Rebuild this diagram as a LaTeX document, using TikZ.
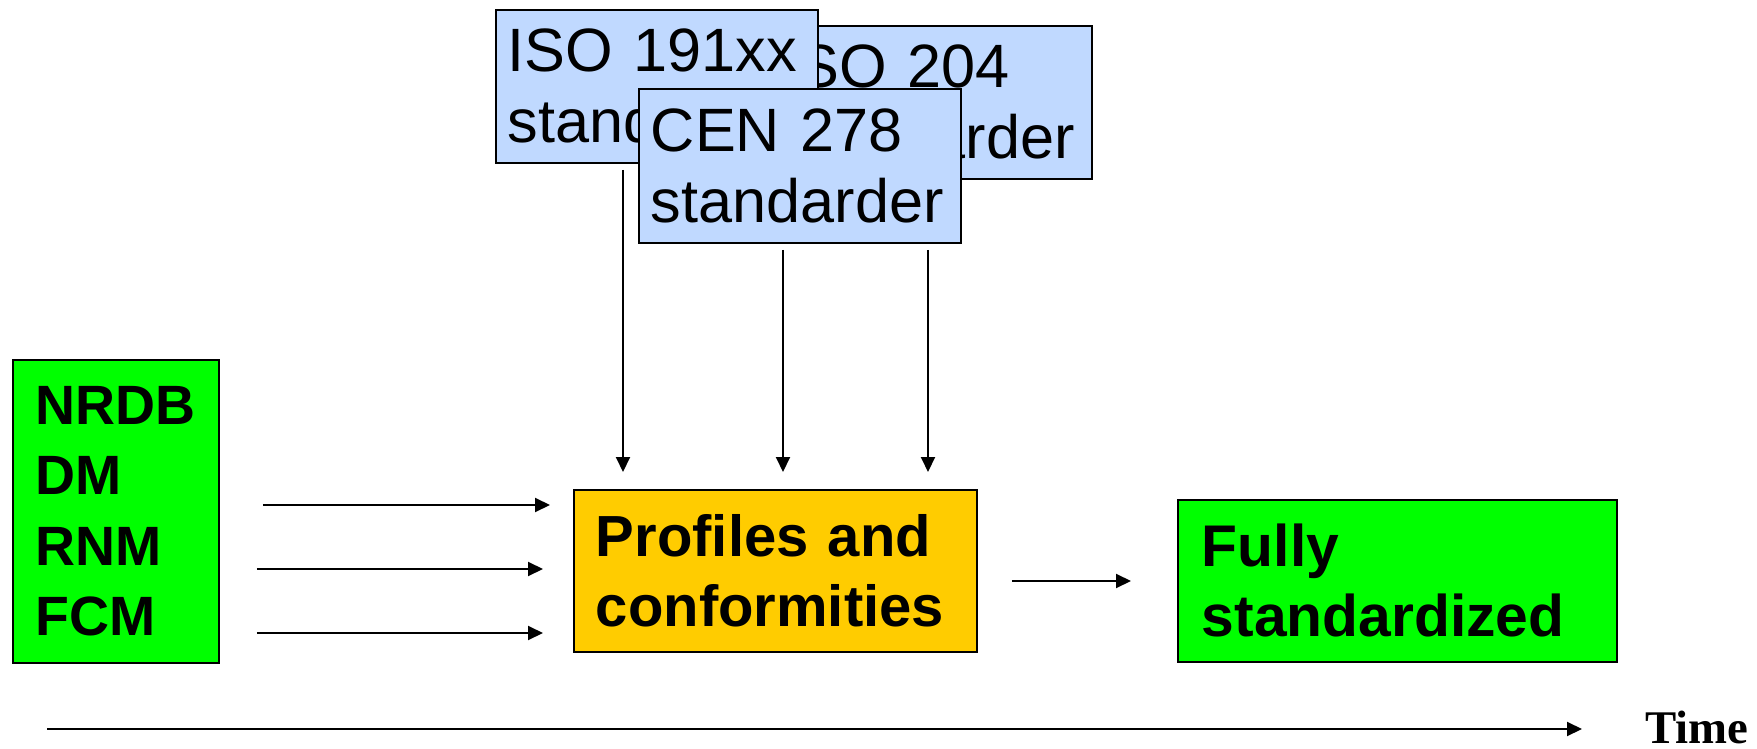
\documentclass[tikz,border=0pt]{standalone}
\usepackage{fontspec}
\setmainfont{Liberation Sans}
\newfontfamily\timefont{Liberation Serif}
\usetikzlibrary{arrows.meta}
\definecolor{stdblue}{HTML}{C0D9FF}
\definecolor{profyellow}{HTML}{FFCC00}
\definecolor{brightgreen}{HTML}{00FF00}
\tikzset{
  box/.style={draw=black, line width=0.9pt, anchor=north west, align=left, inner ysep=0pt},
  stdbox/.style={box, fill=stdblue, inner xsep=6pt, text width=149pt, minimum width=161pt, minimum height=76.5pt,
    font=\fontsize{30.6}{35.5}\selectfont},
  boldbox/.style={box, font=\bfseries\fontsize{29}{35}\selectfont},
  arr/.style={line width=1pt, -{Triangle[length=7.5pt, width=7pt]}}
}
\begin{document}
\begin{tikzpicture}[x=0.5pt, y=-0.5pt]
\useasboundingbox (0,0) rectangle (1757,749);
% standards boxes
\node[stdbox] (iso204) at (769,25) {ISO 204\\standarder};
\node[stdbox] (iso191) at (495,9) {ISO 191xx\\standarder};
\node[stdbox, minimum height=77pt] (cen) at (638,88) {CEN 278\\standarder};
% main boxes
\node[boldbox, fill=brightgreen, inner xsep=11.5pt, text width=80pt, minimum width=103pt, minimum height=151.5pt,
  font=\bfseries\fontsize{27.7}{35.2}\selectfont] (nrdb) at (12,359) {NRDB\\DM\\RNM\\FCM};
\node[boldbox, fill=profyellow, inner xsep=11pt, text width=179.5pt, minimum width=201.5pt, minimum height=81pt]
  (prof) at (573,489) {Profiles and\\conformities};
\node[boldbox, fill=brightgreen, inner xsep=12pt, text width=195.5pt, minimum width=219.5pt, minimum height=81pt,
  font=\bfseries\fontsize{29.4}{35}\selectfont] (fully) at (1177,499) {Fully\\standardized};
\node[anchor=base west, inner sep=0pt, font=\timefont\bfseries\fontsize{23.4}{28}\selectfont] (time) at (1645,743) {Time};
% connector guide coordinates
\coordinate (d1) at (623,0);
\coordinate (d2) at (783,0);
\coordinate (d3) at (928,0);
\coordinate (r1) at (0,505);
\coordinate (r2) at (0,569);
\coordinate (r3) at (0,633);
\coordinate (m1) at (0,581);
\coordinate (t0) at (47,729);
% connectors
\draw[arr, shorten <=3pt, shorten >=8.5pt] (iso191.south -| d1) -- (prof.north -| d1);
\draw[arr, shorten <=3pt, shorten >=8.5pt] (cen.south -| d2) -- (prof.north -| d2);
\draw[arr, shorten <=3pt, shorten >=8.5pt] (cen.south -| d3) -- (prof.north -| d3);
\draw[arr, shorten <=21.5pt, shorten >=11.5pt] (nrdb.east |- r1) -- (prof.west |- r1);
\draw[arr, shorten <=18.5pt, shorten >=15pt] (nrdb.east |- r2) -- (prof.west |- r2);
\draw[arr, shorten <=18.5pt, shorten >=15pt] (nrdb.east |- r3) -- (prof.west |- r3);
\draw[arr, shorten <=17pt, shorten >=23pt] (prof.east |- m1) -- (fully.west |- m1);
\draw[arr, shorten >=31.5pt] (t0) -- (time.west |- t0);
\end{tikzpicture}
\end{document}
